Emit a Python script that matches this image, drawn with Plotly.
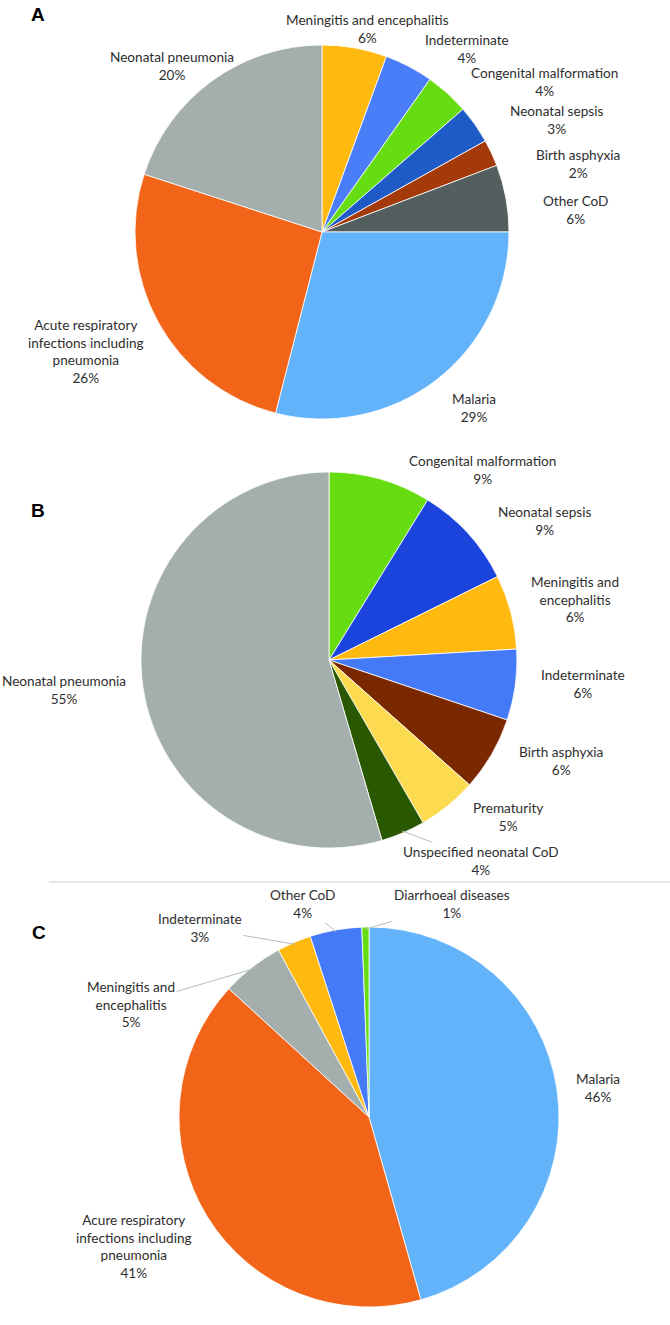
import math
import plotly.graph_objects as go

# ---- Data ----
a_labels = ["Meningitis and encephalitis", "Indeterminate", "Congenital malformation",
            "Neonatal sepsis", "Birth asphyxia", "Other CoD", "Malaria",
            "Acute respiratory<br>infections including<br>pneumonia", "Neonatal pneumonia"]
a_values = [5.6, 4.2, 3.8, 3.3, 2.3, 5.8, 29.0, 26.0, 20.0]
a_colors = ["#FFB90F", "#4A7DF8", "#66DD11", "#1F5BC6", "#A43A0A", "#535E5E",
            "#62B3FA", "#F26418", "#A3AEAD"]

b_labels = ["Congenital malformation", "Neonatal sepsis", "Meningitis and<br>encephalitis",
            "Indeterminate", "Birth asphyxia", "Prematurity", "Unspecified neonatal CoD",
            "Neonatal pneumonia"]
b_values = [8.8, 8.9, 6.4, 6.1, 6.4, 5.1, 3.8, 54.6]
b_colors = ["#66DD11", "#1B44DC", "#FFB90F", "#4479F8", "#7A2800", "#FDDB50",
            "#2A5800", "#A3AEAD"]

c_labels = ["Malaria", "Acure respiratory<br>infections including<br>pneumonia",
            "Meningitis and<br>encephalitis", "Indeterminate", "Other CoD",
            "Diarrhoeal diseases"]
c_values = [45.6, 41.2, 5.3, 2.9, 4.4, 0.6]
c_colors = ["#62B3FA", "#F26418", "#A3AEAD", "#FFB90F", "#4479F8", "#66DD11"]

panel_letters = ["A", "B", "C"]

# ---- Layout (pixels) ----
W, H = 670, 1325
pies = [  # centre x, centre y, radius
    (322, 232, 187),
    (329, 660, 188),
    (369, 1117, 190),
]
# label centre positions (px) and whether a leader line is drawn
label_pos = [
    [(367, 29), (467, 49), (544, 82), (556, 120), (578, 164), (575, 210),
     (474, 408), (86, 351), (172, 66)],
    [(482, 470), (544, 521), (575, 599), (583, 684), (561, 761), (508, 817),
     (481, 861), (64, 690)],
    [(598, 1088), (134, 1246), (131, 1005), (200, 928), (303, 904), (452, 904)],
]
leaders = [
    [False] * 9,
    [False] * 6 + [True, False],
    [False, False, True, True, True, True],
]
letter_pos = [(29, 14), (29, 510), (30, 932)]

font = dict(family="Lato, Liberation Sans, sans-serif", size=13.6, color="#2E2E2E")


def dom(cx, cy, r):
    return dict(x=[(cx - r) / W, (cx + r) / W], y=[1 - (cy + r) / H, 1 - (cy - r) / H])


fig = go.Figure()
datasets = [(a_labels, a_values, a_colors), (b_labels, b_values, b_colors),
            (c_labels, c_values, c_colors)]

for (labels, values, colors), (cx, cy, r), lpos, lead in zip(datasets, pies, label_pos, leaders):
    fig.add_trace(go.Pie(
        labels=labels, values=values, sort=False, direction="clockwise", rotation=0,
        marker=dict(colors=colors, line=dict(color="white", width=0.8)),
        textinfo="none", domain=dom(cx, cy, r), showlegend=False,
    ))
    total = sum(values)
    cum = 0.0
    for lab, v, (lx, ly), has_line in zip(labels, values, lpos, lead):
        mid = (cum + v / 2) / total * 2 * math.pi
        cum += v
        text = f"{lab}<br>{round(v / total * 100)}%"
        if has_line:
            px = cx + (r - 2) * math.sin(mid)
            py = cy - (r - 2) * math.cos(mid)
            fig.add_annotation(text=text, x=px / W, y=1 - py / H, xref="paper", yref="paper",
                               ax=lx - px, ay=ly - py, axref="pixel", ayref="pixel",
                               showarrow=True, arrowhead=0, arrowwidth=1,
                               arrowcolor="#B8BEBE", standoff=0, font=font)
        else:
            fig.add_annotation(text=text, x=lx / W, y=1 - ly / H, xref="paper", yref="paper",
                               xanchor="center", yanchor="middle", showarrow=False, font=font)

for letter, (lx, ly) in zip(panel_letters, letter_pos):
    fig.add_annotation(text=f"<b>{letter}</b>", x=lx / W, y=1 - ly / H, xref="paper",
                       yref="paper", xanchor="left", yanchor="middle", showarrow=False,
                       font=dict(family="Liberation Sans, Arial, sans-serif", size=19,
                                 color="black"))

fig.add_shape(type="line", xref="paper", yref="paper", x0=49 / W, x1=1,
              y0=1 - 882 / H, y1=1 - 882 / H, line=dict(color="#DDE1E1", width=1.5))

fig.update_layout(width=W, height=H, margin=dict(l=0, r=0, t=0, b=0),
                  paper_bgcolor="white", plot_bgcolor="white")

fig.write_html("out.html", config={"displayModeBar": False},
               post_script="document.body.style.margin='0';")
